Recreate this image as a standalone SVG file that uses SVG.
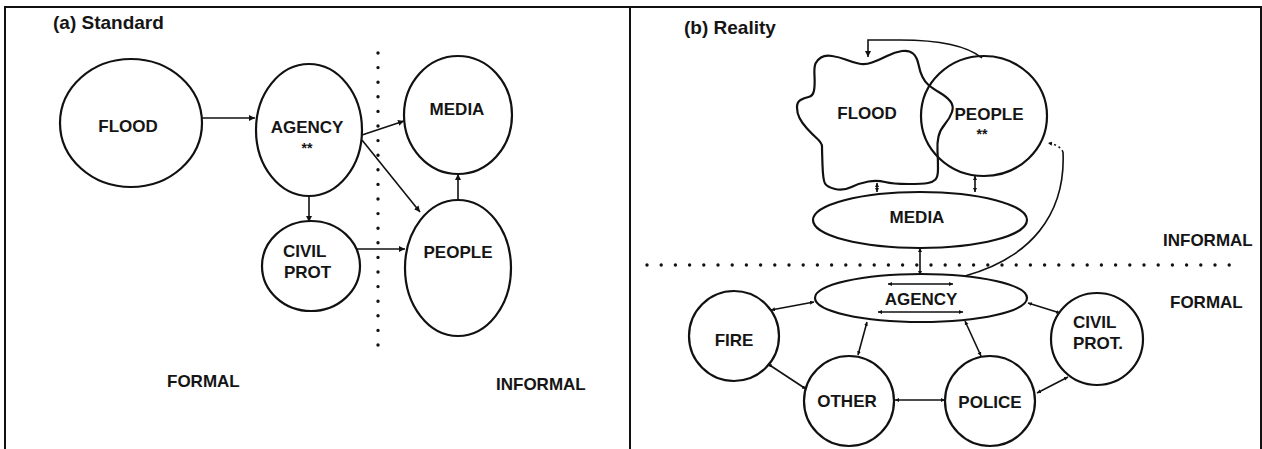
<svg xmlns="http://www.w3.org/2000/svg" width="1262" height="449" viewBox="0 0 1262 449">
<style>
  text { font-family: "Liberation Sans", Arial, sans-serif; font-weight: bold; fill: #151515; font-size: 17px; }
  .title { font-size: 19px; }
  .star { font-size: 14px; }
  .mid { text-anchor: middle; }
  .shape { fill: none; stroke: #111; stroke-width: 2.2; }
  .frame { fill: none; stroke: #111; stroke-width: 2; }
  .con { fill: none; stroke: #111; stroke-width: 1.6; }
  .dots { fill: none; stroke: #111; stroke-width: 3.4; stroke-linecap: round; }
</style>
<defs>
  <marker id="ah" markerUnits="userSpaceOnUse" markerWidth="7" markerHeight="7" refX="6" refY="3" orient="auto-start-reverse">
    <path d="M0,0 L6,3 L0,6 z" fill="#111"/>
  </marker>
  <marker id="ahs" markerUnits="userSpaceOnUse" markerWidth="5" markerHeight="5" refX="4" refY="2" orient="auto-start-reverse">
    <path d="M0,0 L4,2 L0,4 z" fill="#111"/>
  </marker>
</defs>
<rect width="1262" height="449" fill="#fff"/>
<g id="frame">
  <path class="frame" d="M5,449 L5,7 L1261,7 L1261,449 M630,7 L630,449"/>
</g>
<g id="titles">
  <text class="title" x="53" y="29">(a) Standard</text>
  <text class="title" x="684" y="34">(b) Reality</text>
</g>
<g id="dividers">
  <path class="dots" d="M378,53 L378,358" stroke-dasharray="0 14.6"/>
  <path class="dots" d="M647,265 L1231,265" stroke-dasharray="0 14.2"/>
</g>
<g id="connectors">
  <path class="con" d="M202,118 L255,118" marker-end="url(#ah)"/>
  <path class="con" d="M362,135 L404,121" marker-end="url(#ah)"/>
  <path class="con" d="M362,140 L420,212" marker-end="url(#ah)"/>
  <path class="con" d="M309,197 L309,222" marker-end="url(#ah)"/>
  <path class="con" d="M357,249 L405,249" marker-end="url(#ah)"/>
  <path class="con" d="M458,200 L458,174" marker-end="url(#ah)"/>
  <path class="con" d="M982,58 C965,44 930,40 900,40 L868,40 L868,57" marker-end="url(#ah)"/>
  <path class="con" d="M877,183 L877,192" marker-start="url(#ahs)" marker-end="url(#ahs)"/>
  <path class="con" d="M975,176 L975,192" marker-start="url(#ahs)" marker-end="url(#ahs)"/>
  <path class="con" d="M920,248 L920,275" marker-start="url(#ahs)" marker-end="url(#ahs)"/>
  <path class="con" d="M965,276 C1030,258 1066,215 1063,152"/>
  <path class="con" d="M1063,152 Q1060,145 1048,143" stroke-dasharray="2 3" marker-end="url(#ahs)"/>
  <path class="con" d="M888,284 L953,284" marker-start="url(#ahs)" marker-end="url(#ahs)"/>
  <path class="con" d="M878,312 L963,312" marker-start="url(#ahs)" marker-end="url(#ahs)"/>
  <path class="con" d="M814,302 L771,310" marker-start="url(#ahs)" marker-end="url(#ahs)"/>
  <path class="con" d="M867,322 L858,355" marker-start="url(#ahs)" marker-end="url(#ahs)"/>
  <path class="con" d="M806,389 L768,364" marker-start="url(#ahs)" marker-end="url(#ahs)"/>
  <path class="con" d="M895,400 L945,400" marker-start="url(#ahs)" marker-end="url(#ahs)"/>
  <path class="con" d="M965,321 L981,356" marker-start="url(#ahs)" marker-end="url(#ahs)"/>
  <path class="con" d="M1028,303 L1060,313" marker-start="url(#ahs)" marker-end="url(#ahs)"/>
  <path class="con" d="M1037,393 L1068,377" marker-start="url(#ahs)" marker-end="url(#ahs)"/>
</g>
<g id="a-flood">
  <ellipse class="shape" cx="131" cy="123" rx="71" ry="64"/>
  <text class="mid" x="128" y="132">FLOOD</text>
</g>
<g id="a-agency">
  <ellipse class="shape" cx="309" cy="130" rx="53" ry="66"/>
  <text class="mid" x="307" y="133">AGENCY</text>
  <text class="mid star" x="307" y="153">**</text>
</g>
<g id="a-media">
  <ellipse class="shape" cx="458" cy="115" rx="54" ry="59"/>
  <text class="mid" x="457" y="115">MEDIA</text>
</g>
<g id="a-civilprot">
  <ellipse class="shape" cx="311" cy="266" rx="49" ry="45"/>
  <text x="283" y="257">CIVIL</text>
  <text x="284" y="278">PROT</text>
</g>
<g id="a-people">
  <ellipse class="shape" cx="458" cy="268" rx="53" ry="68"/>
  <text class="mid" x="458" y="258">PEOPLE</text>
</g>
<g id="a-labels">
  <text x="167" y="387">FORMAL</text>
  <text x="496" y="390">INFORMAL</text>
</g>
<g id="b-flood">
  <path class="shape" d="M821,57.5 Q825,55 832,56 Q839,57 845.5,59.5 Q852,62 858.5,63.5 Q865,65 872,62.5 Q879,60 887,56 Q895,52 902,51 Q909,50 913,53.5 Q917,57 918.5,64.5 Q920,72 922.5,77 Q925,82 928.5,85 Q932,88 939.5,92.5 Q947,97 950.5,101.5 Q954,106 952,112 Q950,118 945,124 Q940,130 938.5,136.5 Q937,143 937.5,151.5 Q938,160 938,168.5 Q938,177 935.5,179.5 Q933,182 928,183 Q923,184 908,184 Q893,184 885,182 Q877,180 868.5,181.5 Q860,183 851.5,187 Q843,191 835,189 Q827,187 825,183.5 Q823,180 822.5,165 Q822,150 822,146.5 Q822,143 817,138.5 Q812,134 807,128.5 Q802,123 799.5,118 Q797,113 797,107.5 Q797,102 800.5,100 Q804,98 808.5,97 Q813,96 814,90.5 Q815,85 814.5,76 Q814,67 815.5,63.5 Q817,60 821,57.5 Z"/>
  <text class="mid" x="867" y="119">FLOOD</text>
</g>
<g id="b-people">
  <ellipse class="shape" cx="984" cy="116" rx="63" ry="60"/>
  <text class="mid" x="989" y="120">PEOPLE</text>
  <text class="mid star" x="982" y="139">**</text>
</g>
<g id="b-media">
  <ellipse class="shape" cx="920" cy="220" rx="107" ry="28"/>
  <text class="mid" x="917" y="223">MEDIA</text>
</g>
<g id="b-agency">
  <ellipse class="shape" cx="921" cy="298" rx="106" ry="24"/>
  <text class="mid" x="921" y="305">AGENCY</text>
</g>
<g id="b-fire">
  <circle class="shape" cx="734" cy="336" r="45"/>
  <text class="mid" x="734" y="346">FIRE</text>
</g>
<g id="b-other">
  <circle class="shape" cx="849" cy="401" r="45"/>
  <text class="mid" x="847" y="407">OTHER</text>
</g>
<g id="b-police">
  <circle class="shape" cx="990" cy="401" r="45"/>
  <text class="mid" x="990" y="408">POLICE</text>
</g>
<g id="b-civilprot">
  <circle class="shape" cx="1097" cy="339" r="46"/>
  <text x="1073" y="328">CIVIL</text>
  <text x="1073" y="349">PROT.</text>
</g>
<g id="b-labels">
  <text x="1163" y="246">INFORMAL</text>
  <text x="1170" y="308">FORMAL</text>
</g>
</svg>
